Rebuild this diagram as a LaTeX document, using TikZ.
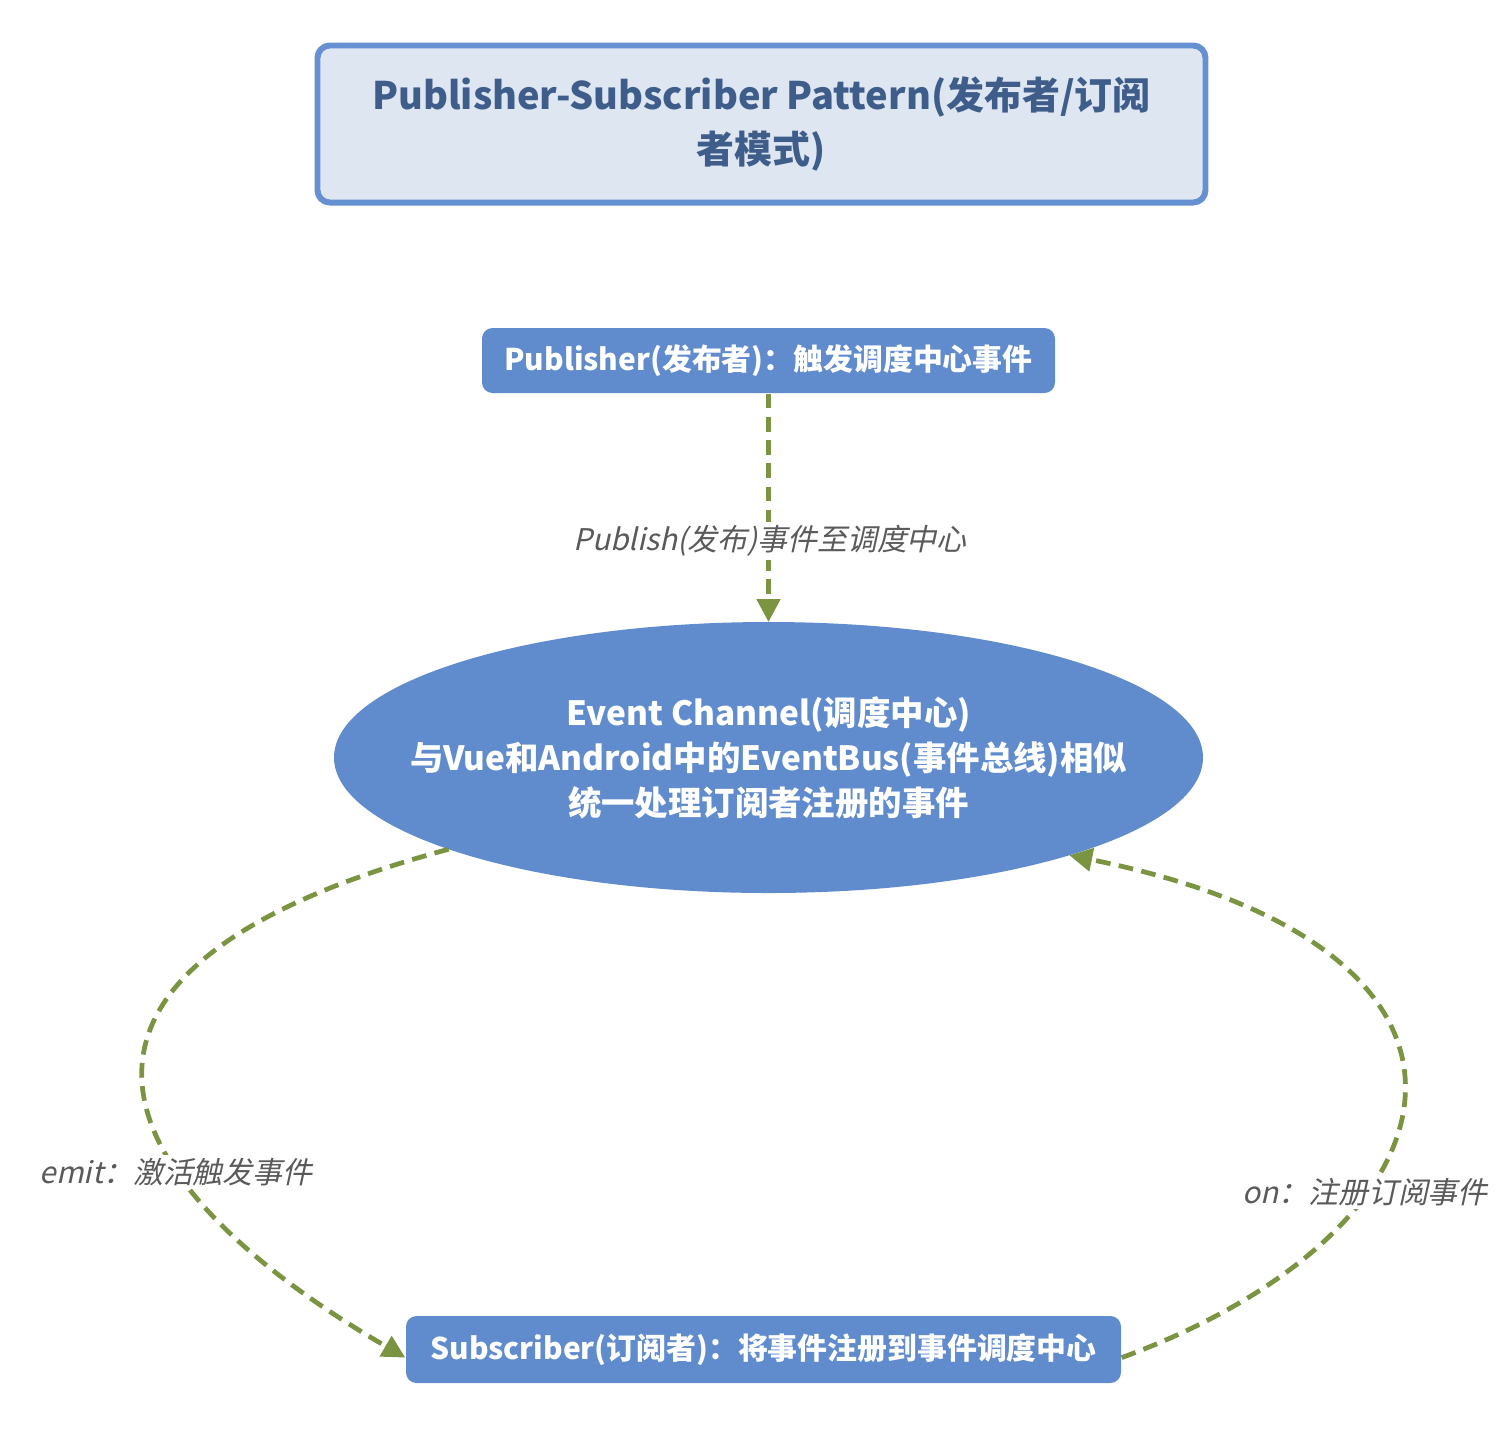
\documentclass[tikz,border=0pt]{standalone}
\usepackage{fontspec}
\setmainfont{Noto Sans CJK SC}
\newfontfamily\lblfont{Noto Sans CJK SC}[FakeSlant=0.22]
\usetikzlibrary{shapes.geometric,arrows.meta}
\definecolor{boxblue}{HTML}{608CCE}
\definecolor{titlefill}{HTML}{DEE6F1}
\definecolor{titleborder}{HTML}{6590D2}
\definecolor{titletext}{HTML}{3F5D8A}
\definecolor{arrowgreen}{HTML}{7A9442}
\definecolor{labelgray}{HTML}{5A5A5A}
\begin{document}
\begin{tikzpicture}[
  titlebox/.style={draw=titleborder, line width=1.7pt, fill=titlefill, rounded corners=3.5pt,
    minimum width=8.88cm, minimum height=1.57cm, inner sep=0pt, align=center, text=titletext,
    font=\bfseries\fontsize{10.8}{15.4}\selectfont},
  bluebox/.style={fill=boxblue, rounded corners=3pt, inner sep=0pt, text=white,
    font=\bfseries\fontsize{8.5}{10}\selectfont},
  channel/.style={ellipse, fill=boxblue, minimum width=8.69cm, minimum height=2.71cm, inner sep=0pt,
    outer sep=0pt},
  channeltext/.style={align=center, text=white, inner sep=0pt, font=\bfseries\fontsize{9.5}{12.8}\selectfont},
  flowlabel/.style={fill=white, inner sep=1pt, text=labelgray, font=\lblfont\fontsize{8.5}{10}\selectfont},
  flow/.style={draw=arrowgreen, line width=1.35pt, dash pattern=on 4.2pt off 2.4pt,
    -{Triangle[length=6.5pt,width=6.5pt,fill=arrowgreen]}}
]
\useasboundingbox (0,0) rectangle (15.06,-14.28);

\node[titlebox] (title) at (7.615,-1.24) {Publisher-Subscriber Pattern(发布者/订阅\\者模式)};

\node[bluebox, minimum width=5.73cm, minimum height=0.65cm] (pub) at (7.685,-3.605)
  {Publisher(发布者)：触发调度中心事件};

\node[channel] (ec) at (7.685,-7.575) {};
\node[channeltext] (ectext) at (ec.center)
  {Event Channel(调度中心)\\与Vue和Android中的EventBus(事件总线)相似\\统一处理订阅者注册的事件};

\node[bluebox, minimum width=7.15cm, minimum height=0.67cm] (sub) at (7.635,-13.495)
  {Subscriber(订阅者)：将事件注册到事件调度中心};

\draw[flow] (pub.south) -- (ec.north);
\draw[flow] (ec.196.5) .. controls (0,-9.7) and (1.0,-11.8) .. ([yshift=-2.3pt]sub.west);
\draw[flow] ([yshift=-2.3pt]sub.east) .. controls (14.7,-12.3) and (15.4,-9.5) .. (ec.342.3);

\node[flowlabel] (l1) at (7.70,-5.41) {Publish(发布)事件至调度中心};
\node[flowlabel] (l2) at (1.76,-11.72) {emit：激活触发事件};
\node[flowlabel] (l3) at (13.65,-11.92) {on：注册订阅事件};
\end{tikzpicture}
\end{document}
